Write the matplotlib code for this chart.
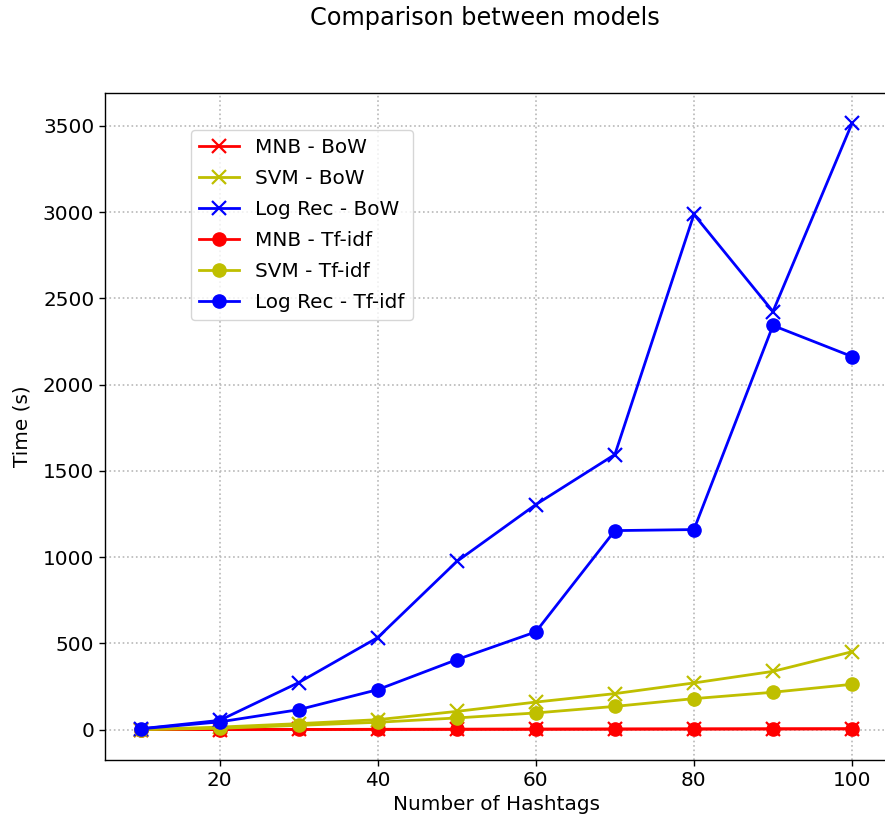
import matplotlib
matplotlib.use("Agg")
import matplotlib.pyplot as plt

hashtags = [10, 20, 30, 40, 50, 60, 70, 80, 90, 100]
mnb_bow = [0.5, 1, 1.5, 2, 2.5, 3, 3.5, 4, 4.5, 5]
svm_bow = [0, 15, 35, 58, 106, 160, 209, 271, 338, 452]
logrec_bow = [5, 54, 273, 534, 975, 1305, 1595, 2987, 2424, 3515]
mnb_tfidf = [0.5, 1, 1.5, 2, 2.5, 3, 3.5, 4, 4.5, 5]
svm_tfidf = [0, 8, 25, 43, 68, 97, 135, 180, 217, 263]
logrec_tfidf = [5, 45, 116, 232, 406, 567, 1154, 1160, 2343, 2163]

W, H = 885, 824
fig = plt.figure(figsize=(W/100, H/100), dpi=100)
ax = fig.add_axes([105/W, (H-760)/H, (887.6-105)/W, (760-93)/H])

lw = 2.0
ms_o = 9.5
ms_x = 10
mew_x = 1.6
ax.plot(hashtags, mnb_bow, color='r', marker='x', ms=ms_x, mew=mew_x, lw=lw, label='MNB - BoW')
ax.plot(hashtags, svm_bow, color='y', marker='x', ms=ms_x, mew=mew_x, lw=lw, label='SVM - BoW')
ax.plot(hashtags, logrec_bow, color='b', marker='x', ms=ms_x, mew=mew_x, lw=lw, label='Log Rec - BoW')
ax.plot(hashtags, mnb_tfidf, color='r', marker='o', ms=ms_o, lw=lw, label='MNB - Tf-idf')
ax.plot(hashtags, svm_tfidf, color='y', marker='o', ms=ms_o, lw=lw, label='SVM - Tf-idf')
ax.plot(hashtags, logrec_tfidf, color='b', marker='o', ms=ms_o, lw=lw, label='Log Rec - Tf-idf')

ax.grid(True, linestyle=':', color='#b8b8b8', linewidth=1.2)
ax.set_xticks([20, 40, 60, 80, 100])
ax.tick_params(labelsize=14.4, length=4.2, width=1.0)
ax.set_xlabel('Number of Hashtags', fontsize=14.4)
ax.set_ylabel('Time (s)', fontsize=14.4, labelpad=8)
fig.text(484.5/W, 1 - 18/H, 'Comparison between models', fontsize=17.3,
         ha='center', va='center')
for s in ax.spines.values():
    s.set_linewidth(1.0)
leg = ax.legend(loc='upper left', bbox_to_anchor=((191-105)/(887.6-105), (760-130)/(760-93)),
                borderaxespad=0, fontsize=14.4, labelspacing=0.6)

fig.savefig('out.png', dpi=100)
